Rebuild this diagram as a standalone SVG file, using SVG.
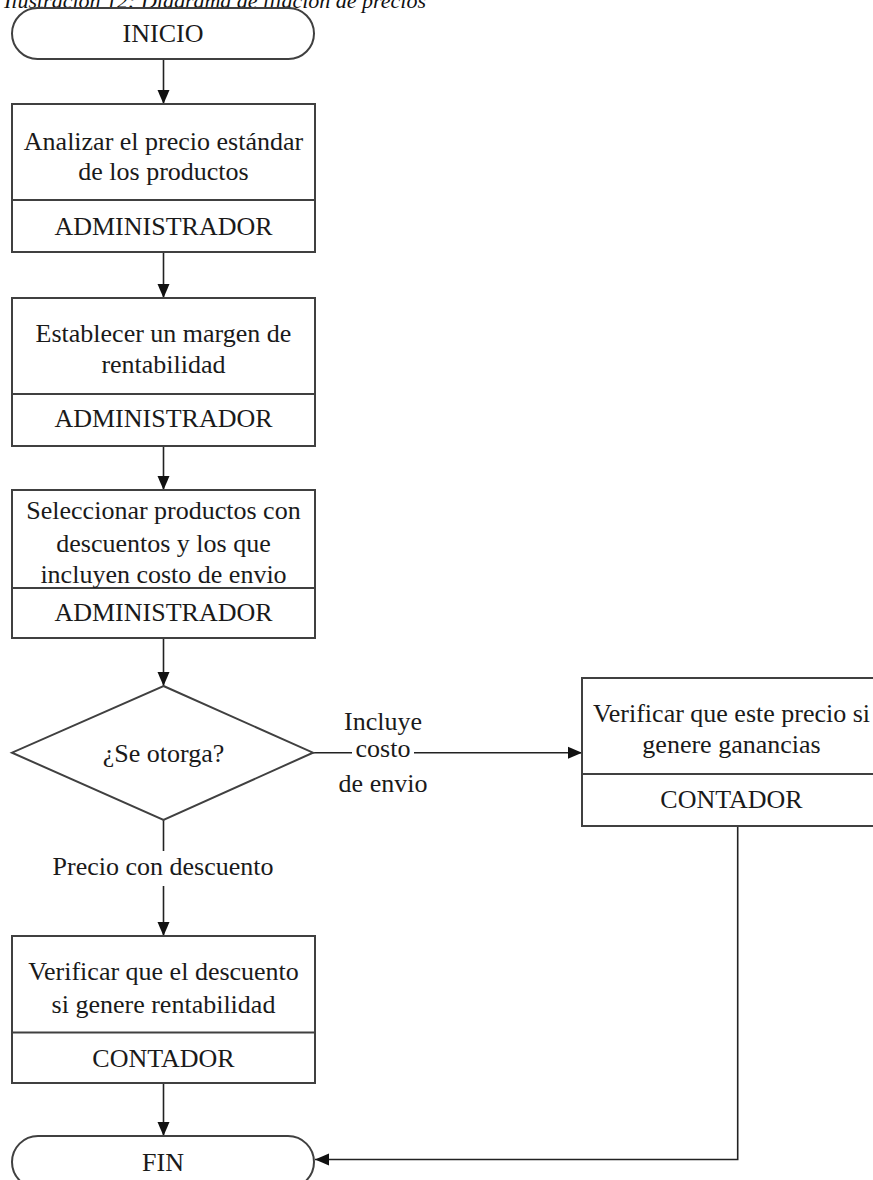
<svg xmlns="http://www.w3.org/2000/svg" width="873" height="1180" viewBox="0 0 873 1180">
<style>
.bg{fill:#ffffff}
.shape{fill:#ffffff;stroke:#404040;stroke-width:2}
.div{stroke:#404040;stroke-width:2}
.conn{stroke:#222222;stroke-width:1.6;fill:none}
.t{font-family:"Liberation Serif","Times New Roman",serif;font-size:26px;fill:#1a1a1a;text-anchor:middle}
.title{font-family:"Liberation Serif","Times New Roman",serif;font-size:22px;font-style:italic;fill:#111111}
</style>
<defs>
<marker id="ah" markerUnits="userSpaceOnUse" markerWidth="14" markerHeight="14" viewBox="0 0 14 14" refX="14" refY="7" orient="auto">
<path d="M0,1 L14,7 L0,13 Z" fill="#111111"/>
</marker>
</defs>
<rect class="bg" x="0" y="0" width="873" height="1180"/>
<text class="title" x="4" y="8">Ilustración 12: Diagrama de fijación de precios</text>

<g id="connectors">
<line class="conn" x1="163.5" y1="59" x2="163.5" y2="104" marker-end="url(#ah)"/>
<line class="conn" x1="163.5" y1="252" x2="163.5" y2="298" marker-end="url(#ah)"/>
<line class="conn" x1="163.5" y1="446" x2="163.5" y2="490" marker-end="url(#ah)"/>
<line class="conn" x1="163.5" y1="638" x2="163.5" y2="686" marker-end="url(#ah)"/>
<line class="conn" x1="163.5" y1="820" x2="163.5" y2="851"/>
<line class="conn" x1="163.5" y1="886" x2="163.5" y2="936" marker-end="url(#ah)"/>
<line class="conn" x1="163.5" y1="1083" x2="163.5" y2="1136" marker-end="url(#ah)"/>
<line class="conn" x1="313" y1="752.7" x2="352" y2="752.7"/>
<line class="conn" x1="414" y1="752.7" x2="582" y2="752.7" marker-end="url(#ah)"/>
<polyline class="conn" points="737.7,826 737.7,1159.5 315,1159.5" marker-end="url(#ah)"/>
<text class="t" x="163" y="875">Precio con descuento</text>
<text class="t" x="383" y="730">Incluye</text>
<text class="t" x="383" y="757">costo</text>
<text class="t" x="383" y="792">de envio</text>
</g>

<g id="inicio">
<rect class="shape" x="12" y="8" width="302" height="51" rx="25.5" ry="25.5"/>
<text class="t" x="163" y="42">INICIO</text>
</g>

<g id="analizar">
<rect class="shape" x="12" y="104" width="303" height="148"/>
<line class="div" x1="12" y1="200" x2="315" y2="200"/>
<text class="t" x="163.5" y="150">Analizar el precio estándar</text>
<text class="t" x="163.5" y="180">de los productos</text>
<text class="t" x="163.5" y="235">ADMINISTRADOR</text>
</g>

<g id="establecer">
<rect class="shape" x="12" y="298" width="303" height="148"/>
<line class="div" x1="12" y1="394" x2="315" y2="394"/>
<text class="t" x="163.5" y="341.5">Establecer un margen de</text>
<text class="t" x="163.5" y="372.5">rentabilidad</text>
<text class="t" x="163.5" y="426.5">ADMINISTRADOR</text>
</g>

<g id="seleccionar">
<rect class="shape" x="12" y="490" width="303" height="148"/>
<line class="div" x1="12" y1="588" x2="315" y2="588"/>
<text class="t" x="163.5" y="519">Seleccionar productos con</text>
<text class="t" x="163.5" y="551.5">descuentos y los que</text>
<text class="t" x="163.5" y="583">incluyen costo de envio</text>
<text class="t" x="163.5" y="620.5">ADMINISTRADOR</text>
</g>

<g id="decision">
<polygon class="shape" points="163.5,686 313,752.7 163.5,820 12,752.7"/>
<text class="t" x="163.5" y="761.5">¿Se otorga?</text>
</g>

<g id="verificar-precio">
<rect class="shape" x="582" y="678" width="303" height="148"/>
<line class="div" x1="582" y1="774" x2="885" y2="774"/>
<text class="t" x="731.5" y="721.5">Verificar que este precio si</text>
<text class="t" x="731.5" y="752.5">genere ganancias</text>
<text class="t" x="731.5" y="807.5">CONTADOR</text>
</g>

<g id="verificar-descuento">
<rect class="shape" x="12" y="936" width="303" height="147"/>
<line class="div" x1="12" y1="1032.5" x2="315" y2="1032.5"/>
<text class="t" x="163.5" y="980">Verificar que el descuento</text>
<text class="t" x="163.5" y="1012.5">si genere rentabilidad</text>
<text class="t" x="163.5" y="1066.5">CONTADOR</text>
</g>

<g id="fin">
<rect class="shape" x="12" y="1136" width="302" height="52" rx="26" ry="26"/>
<text class="t" x="163" y="1170.5">FIN</text>
</g>
</svg>
